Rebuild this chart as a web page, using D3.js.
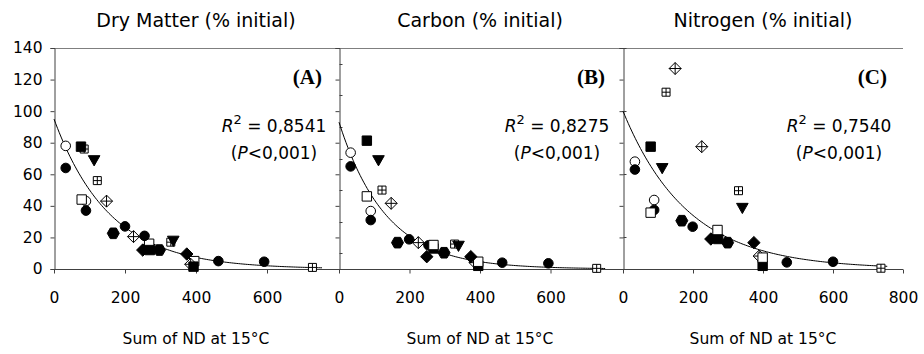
<!DOCTYPE html>
<html>
<head>
<meta charset="utf-8">
<script src="https://cdn.jsdelivr.net/npm/d3@7"></script>
<style>
  html, body { margin: 0; padding: 0; background: #fff; }
  svg { display: block; }
  text { font-family: "DejaVu Sans", sans-serif; fill: #000; }
</style>
</head>
<body>
<svg id="chart" width="924" height="354"></svg>
<script>
// Werte: [Symbol, Summe ND, % initial]
const panelTitles = ["Dry Matter (% initial)", "Carbon (% initial)", "Nitrogen (% initial)"];
const panelLetters = ["(A)", "(B)", "(C)"];
const r2Values = ["0,8541", "0,8275", "0,7540"];
const xTicks = [[0, 200, 400, 600], [0, 200, 400, 600], [0, 200, 400, 600, 800]];
const yTicks = [0, 20, 40, 60, 80, 100, 120, 140];
// kleine Striche rechts an den Achsen von (B) und (C)
const innerTicks = [[], [10, 30, 50, 70, 90, 110, 130], [20, 60, 100, 140]];

// Exponentielle Anpassung y = a * exp(-b x)
const fitA = [95, 0.0064];
const fitB = [93, 0.0075];
const fitC = [100, 0.0054];

const pointsA = [
  ["squarePlus", 85, 76], ["squarePlus", 122, 56], ["squarePlus", 329, 17], ["squarePlus", 728, 1],
  ["circleOpen", 33, 78], ["circleOpen", 90, 43],
  ["squareOpen", 78, 44], ["squareOpen", 268, 16], ["squareOpen", 395, 5],
  ["diamondPlus", 148, 43], ["diamondPlus", 224, 20.5], ["diamondPlus", 385, 3],
  ["circleFilled", 33, 64], ["circleFilled", 90, 37], ["circleFilled", 200, 27],
  ["circleFilled", 255, 21], ["circleFilled", 463, 5], ["circleFilled", 592, 4.6],
  ["squareFilled", 76, 77.5], ["squareFilled", 270, 12], ["squareFilled", 393, 1.5],
  ["triangleDown", 113, 69], ["triangleDown", 336, 18],
  ["diamondFilled", 250, 12], ["diamondFilled", 374, 9.5],
  ["hexFilled", 167, 22.6], ["hexFilled", 297, 12]
];

const pointsB = [
  ["squarePlus", 122, 50], ["squarePlus", 328, 15.8], ["squarePlus", 731, 0.4],
  ["circleOpen", 33, 73.7], ["circleOpen", 90, 36.7],
  ["diamondPlus", 148, 41.6], ["diamondPlus", 225, 16.7], ["diamondPlus", 386, 4],
  ["circleFilled", 33, 65], ["circleFilled", 90, 31], ["circleFilled", 199, 18.8],
  ["circleFilled", 254, 15], ["circleFilled", 463, 4], ["circleFilled", 594, 3.6],
  ["squareFilled", 79, 81.3], ["squareFilled", 268, 13], ["squareFilled", 395, 2],
  ["squareOpen", 79, 46], ["squareOpen", 268, 15.2], ["squareOpen", 395, 4.6],
  ["triangleDown", 112, 69], ["triangleDown", 339, 14.8],
  ["diamondFilled", 249, 7.8], ["diamondFilled", 374, 7.8],
  ["hexFilled", 166, 16.7], ["hexFilled", 298, 10.3]
];

const pointsC = [
  ["squarePlus", 123, 112], ["squarePlus", 330, 49.6], ["squarePlus", 737, 0.5],
  ["diamondPlus", 149, 127], ["diamondPlus", 225, 77.5], ["diamondPlus", 389, 8.2],
  ["circleOpen", 34, 68], ["circleOpen", 89, 43.7],
  ["circleFilled", 34, 63], ["circleFilled", 89, 37.4], ["circleFilled", 199, 26.8],
  ["circleFilled", 468, 4.2], ["circleFilled", 600, 4.6],
  ["squareFilled", 79, 77.5], ["squareFilled", 272, 19], ["squareFilled", 399, 2],
  ["squareOpen", 79, 35.7], ["squareOpen", 270, 24.7], ["squareOpen", 399, 7.2],
  ["triangleDown", 112, 64], ["triangleDown", 341, 38.8],
  ["diamondFilled", 251, 19], ["diamondFilled", 374, 16.7],
  ["hexFilled", 168, 30.6], ["hexFilled", 299, 16.7]
];

const allPoints = [pointsA, pointsB, pointsC];
const allFits = [fitA, fitB, fitC];

const svg = d3.select("#chart");
const plotTop = 48, plotBottom = 269;
const panelX = [[54, 338], [339, 621], [623, 903]];

const y = d3.scaleLinear().domain([0, 140]).range([plotBottom, plotTop]);

// Symbole (Kreise werden als Pfad gezeichnet)
function shapePath(kind) {
  switch (kind) {
    case "circleFilled":
    case "circleOpen": {
      const r = 4.8;
      return `M${-r},0A${r},${r} 0 1,0 ${r},0A${r},${r} 0 1,0 ${-r},0Z`;
    }
    case "squareFilled":
    case "squareOpen":
      return "M-4.7,-4.7H4.7V4.7H-4.7Z";
    case "squarePlus":
      return "M-4,-4H4V4H-4Z M0,-4V4 M-4,0H4";
    case "diamondPlus":
      return "M0,-6L6,0L0,6L-6,0Z M0,-6V6 M-6,0H6";
    case "diamondFilled":
      return "M0,-6.2L6.2,0L0,6.2L-6.2,0Z";
    case "triangleDown":
      return "M-5.8,-4.4H5.8L0,5.8Z";
    case "hexFilled":
      return "M-6,0L-3,-5.3H3L6,0L3,5.3H-3Z";
  }
}
const isFilled = k => k.endsWith("Filled") || k === "triangleDown";

// obere Rahmenlinie
svg.append("line")
  .attr("x1", 54).attr("x2", 903)
  .attr("y1", plotTop + 0.5).attr("y2", plotTop + 0.5)
  .attr("stroke", "#7f7f7f");

panelX.forEach((px, i) => {
  const x = d3.scaleLinear().domain([0, 800]).range(px);
  const g = svg.append("g");

  // y-Achse
  const yAxis = d3.axisLeft(y).tickValues(yTicks).tickSize(4).tickPadding(8);
  if (i > 0) yAxis.tickFormat("");
  const ya = g.append("g")
    .attr("transform", `translate(${px[0] + 0.5},0)`)
    .call(yAxis);
  ya.select(".domain").attr("stroke", "#404040");
  ya.selectAll(".tick line").attr("stroke", "#404040");
  ya.selectAll("text")
    .style("font-family", "DejaVu Sans").style("font-size", "15.5px").attr("fill", "#000");

  g.append("g")
    .attr("transform", `translate(${px[0] + 0.5},0)`)
    .selectAll("line")
    .data(innerTicks[i])
    .join("line")
    .attr("x1", 0).attr("x2", 3)
    .attr("y1", d => Math.round(y(d)) + 0.5).attr("y2", d => Math.round(y(d)) + 0.5)
    .attr("stroke", "#404040");

  // x-Achse
  const xa = g.append("g")
    .attr("transform", `translate(0,${plotBottom + 0.5})`)
    .call(d3.axisBottom(x).tickValues(xTicks[i]).tickSize(4).tickSizeOuter(0).tickPadding(18));
  xa.select(".domain").attr("stroke", "#404040")
    .attr("d", `M${px[0]},0H${i === 2 ? px[1] : (panelX[i + 1][0])}`);
  xa.selectAll(".tick line").attr("stroke", "#404040");
  xa.selectAll("text")
    .style("font-family", "DejaVu Sans").style("font-size", "15.5px").attr("fill", "#000");

  // Titel
  svg.append("text")
    .attr("x", (px[0] + px[1]) / 2).attr("y", 27)
    .attr("text-anchor", "middle")
    .style("font-size", "19px")
    .text(panelTitles[i]);

  svg.append("text")
    .attr("x", (px[0] + px[1]) / 2).attr("y", 344)
    .attr("text-anchor", "middle")
    .style("font-size", "15.5px")
    .text("Sum of ND at 15°C");

  // Buchstabe
  svg.append("text")
    .attr("x", px[1] - 16).attr("y", 84)
    .attr("text-anchor", "end")
    .style("font-family", "Liberation Serif")
    .style("font-weight", "bold")
    .style("font-size", "21px")
    .text(panelLetters[i]);

  // R² und P
  const cx = px[1] - 64;
  const r2 = svg.append("text")
    .attr("x", cx).attr("y", 132)
    .attr("text-anchor", "middle")
    .style("font-size", "17px");
  r2.append("tspan").style("font-style", "italic").text("R");
  r2.append("tspan").attr("dy", -8).style("font-size", "13px").text("2");
  r2.append("tspan").attr("dy", 8).text(" = " + r2Values[i]);

  const pt = svg.append("text")
    .attr("x", cx).attr("y", 159)
    .attr("text-anchor", "middle")
    .style("font-size", "17px");
  pt.append("tspan").text("(");
  pt.append("tspan").style("font-style", "italic").text("P");
  pt.append("tspan").text("<0,001)");

  // Kurve
  const [a, b] = allFits[i];
  const curve = d3.range(0, 756, 5).map(v => [v, a * Math.exp(-b * v)]);
  g.append("path")
    .datum(curve)
    .attr("fill", "none")
    .attr("stroke", "#000")
    .attr("stroke-width", 1)
    .attr("d", d3.line().x(d => x(d[0])).y(d => y(d[1])));

  // Punkte
  g.selectAll("path.pt")
    .data(allPoints[i])
    .join("path")
    .attr("class", "pt")
    .attr("transform", d => `translate(${x(d[1])},${y(d[2])})`)
    .attr("d", d => shapePath(d[0]))
    .attr("fill", d => isFilled(d[0]) ? "#000" : "#fff")
    .attr("stroke", "#000")
    .attr("stroke-width", 1);
});
</script>
</body>
</html>
